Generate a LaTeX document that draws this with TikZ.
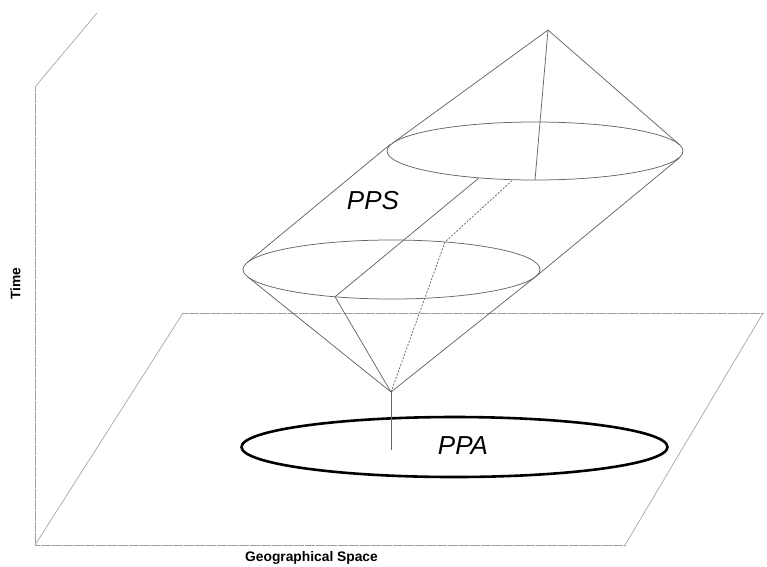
\documentclass[tikz,border=0pt]{standalone}
\usepackage{fontspec}
\setmainfont{Liberation Sans}
\begin{document}
\begin{tikzpicture}[x=1pt,y=-1pt,
  axisdot/.style={draw=gray!75, line width=0.7pt, dash pattern=on 0.6pt off 0.5pt},
  axisline/.style={draw=gray!70, line width=0.7pt},
  cone/.style={draw=black!60, line width=0.75pt},
  hidden/.style={draw=black!60, line width=0.75pt, dash pattern=on 2pt off 1.5pt},
  area/.style={draw=black, line width=2.6pt},
  lbl/.style={font=\bfseries\fontsize{13.8}{16}\selectfont, inner sep=0pt},
  big/.style={font=\itshape\fontsize{26}{30}\selectfont, inner sep=0pt}]
\useasboundingbox (0,0) rectangle (767,566);
% axes and plane
\coordinate (O) at (35,545);
\coordinate (T) at (35,87);
\coordinate (Tk) at (97,13);
\coordinate (P1) at (183,313);
\coordinate (P2) at (763,313);
\coordinate (P3) at (625,545);
\draw[axisdot] (T) -- (O);
\draw[axisline] (T) -- (Tk);
\draw[axisdot] (O) -- (P3);
\draw[axisline] (O) -- (P1);
\draw[axisdot] (P1) -- (P2);
\draw[axisline] (P2) -- (P3);
% key points
\coordinate (A1) at (391,392);
\coordinate (A2) at (548,30);
\coordinate (C1) at (391.5,269.5);
\coordinate (C2) at (535,151);
\coordinate (L1) at (247.4,276.6);
\coordinate (R1) at (535.6,276.6);
\coordinate (L2) at (247.1,262.6);
\coordinate (L3) at (390.6,144.1);
\coordinate (R2) at (535.9,276.4);
\coordinate (R3) at (679.4,157.9);
\coordinate (U1) at (392.1,143.5);
\coordinate (U2) at (679.4,144.6);
\coordinate (M1) at (335,296.8);
\coordinate (M2) at (478.5,178.3);
\coordinate (V1) at (535,180);
\coordinate (D1) at (445,242);
\coordinate (D2) at (513,179.7);
\coordinate (S) at (391,450);
% PPA
\draw[area] (454.5,447) ellipse [x radius=213pt, y radius=30pt];
\draw[cone] (A1) -- (S);
% ellipses
\draw[cone] (C1) ellipse [x radius=148.5pt, y radius=29.5pt];
\draw[cone] (C2) ellipse [x radius=148pt, y radius=29pt];
% cone and cylinder
\draw[cone] (A1) -- (L1);
\draw[cone] (A1) -- (R1);
\draw[cone] (L2) -- (L3);
\draw[cone] (R2) -- (R3);
\draw[cone] (A2) -- (U1);
\draw[cone] (A2) -- (U2);
\draw[cone] (A1) -- (M1) -- (M2);
\draw[cone] (A2) -- (V1);
\draw[hidden] (A1) -- (D1) -- (D2);
% labels
\node[big] (pps) at (373,201) {PPS};
\node[big] (ppa) at (463,446) {PPA};
\node[lbl, rotate=90] (time) at (15.5,284) {Time};
\node[lbl] (geo) at (311.5,558) {Geographical Space};
\end{tikzpicture}
\end{document}
